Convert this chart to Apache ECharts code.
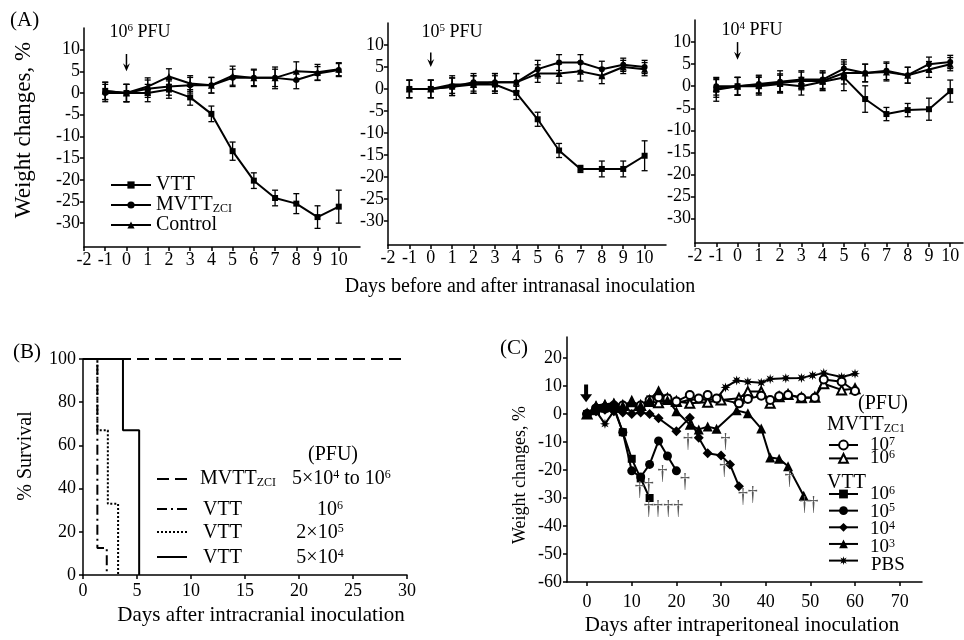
<!DOCTYPE html>
<html><head><meta charset="utf-8">
<script src="https://cdn.jsdelivr.net/npm/echarts@6/dist/echarts.min.js"></script>
<style>html,body{margin:0;padding:0;background:#fff}#c{width:964px;height:640px}</style>
</head><body><div id="c"></div>
<script>
const SERIF = 'Liberation Serif';

// ---------- Panel A data (weight change %, intranasal) ----------
const daysA = [-1,0,1,2,3,4,5,6,7,8,9,10];
const vttA1  = [0.5,0,0,0.8,-1,-4.8,-13.4,-20.2,-24.2,-25.5,-28.6,-26.2];
const vttA1E = [2,2,2,2,1.8,1.8,2.1,1.8,1.8,2.3,2.6,3.8];
const mvtA1  = [0,0,1,1.5,1.8,1.8,3.5,3.5,3.5,3,4.5,5.3];
const mvtA1E = [2,2,2,2,1.8,1.8,2,2,2,2,1.6,1.5];
const ctlA1  = [0.5,0,1.5,3.8,2.2,1.8,4,3.5,3.5,5,4.8,5.5];
const ctlA1E = [2,2,2,1.8,1.8,1.8,2.2,1.8,2.5,2.2,1.8,1.5];

const vttA2  = [0,0,0.5,1,1,-0.9,-6.9,-14,-18.2,-18.2,-18.2,-15.2];
const vttA2E = [2,2,2,2,2,1.5,1.6,1.6,0.8,1.8,1.8,3.4];
const mvtA2  = [0,0,0.5,1.5,1.5,1.5,4.5,6,6,4.5,5.5,5];
const mvtA2E = [2,2,2,2,2,2,2,1.8,1.8,1.8,1.5,1.5];
const ctlA2  = [0,0,1,1,1.5,1.5,3.5,3.5,4,3,5,4.5];
const ctlA2E = [2,2,2,2,2,2,2,2.2,2.2,1.8,1.5,1.5];

const vttA3  = [-0.8,0,0,0.5,0,1,2,-2.9,-6.3,-5.4,-5.2,-1.1];
const vttA3E = [2.6,2,2,2,2,2,3,3,1.5,1.5,2.5,2.5];
const mvtA3  = [0,0,0.5,1,1.5,1.5,4,3,3.5,2.5,5,5.5];
const mvtA3E = [2,2,2,2.5,2,2,2,2,2,1.8,1.6,1.5];
const ctlA3  = [-0.5,0,0.3,0.8,1.2,1.2,3,3,3.2,2.5,3.8,5];
const ctlA3E = [2,2,2,2,2,2,2.5,2,2,1.8,1.8,1.5];

const doseA = ['6','5','4'];
const arrowA = [[0,9,5],[0,8.3,5],[0,10,6]];

const ticksAX = [-2,-1,0,1,2,3,4,5,6,7,8,9,10];
const ticksAY = [-30,-25,-20,-15,-10,-5,0,5,10];

// ---------- Panel B data (% survival, intracranial) ----------
const bMvtt    = [[0,100],[30,100]];
const bVtt1e6  = [[0,100],[1.33,100],[1.33,12.5],[2.2,12.5],[2.2,0]];
const bVtt2e5  = [[0,100],[1.33,100],[1.33,67],[2.3,67],[2.3,33],[3.25,33],[3.25,0]];
const bVtt5e4  = [[0,100],[3.7,100],[3.7,67],[5.2,67],[5.2,0]];
const ticksBX = [0,5,10,15,20,25,30];
const ticksBY = [0,20,40,60,80,100];

// ---------- Panel C data (weight change %, intraperitoneal) ----------
const cMvtt7 = [[0,0],[2,2],[4,2],[6,3],[8,3],[10,2.5],[12,3],[14,5],[16,6],[18,5.5],[20,4.5],[23,6.8],[25,5.5],[27,6.8],[29,5.5],[34,3.8],[36,5.4],[39,6.5],[41,5],[43,6.3],[45,6.8],[48,5.8],[51,5.8],[53,12.3],[57,11.5],[60,8.2]];
const cMvtt6 = [[0,0],[2,2.5],[4,3],[6,3.5],[8,3],[10,4.5],[12,3],[14,4.5],[16,4],[18,5.5],[20,4.5],[23,3.8],[27,4.2],[30,5],[34,5.6],[36,8],[39,8],[41,3.8],[43,6.2],[45,7],[48,5.8],[51,6],[53,10.8],[57,8.6],[60,9]];
const cVtt6 = [[0,0],[2,1],[4,2],[6,2.5],[8,-6.5],[10,-16],[12,-23],[14,-30]];
const cVtt5 = [[0,0],[2,2],[4,2.5],[6,2],[8,-6.5],[10,-20.3],[12,-22.5],[14,-18],[16,-9.6],[18,-15],[20,-20.3]];
const cVtt4 = [[0,0],[2,1],[4,1.5],[6,1],[8,0.5],[10,0],[12,0.5],[14,0],[16,-1.5],[20,-6.2],[23,-1.3],[25,-8.5],[27,-14],[30,-14.8],[32,-18],[34,-25.8]];
const cVtt3 = [[0,0],[2,3],[4,3.5],[6,3.8],[8,3],[10,4.2],[12,3],[14,5],[16,8.5],[18,5],[20,1],[23,-3.8],[25,-5.5],[27,-4.5],[29,-5.3],[33.5,1.3],[36,0.3],[39,-5.2],[41,-15.5],[43,-16],[45,-18.7],[48.5,-29.2]];
const cPbs = [[0,0],[2,1],[4,-3.5],[6,1],[8,2],[10,2],[12,3],[14,5.5],[16,6.5],[18,6],[20,4],[23,5],[25,5.5],[27,5],[29,5.5],[31,9.5],[33.5,12],[36,11.5],[39,11.2],[41,12.5],[44.5,12.8],[48,12.9],[50.5,13.8],[53,14.6],[57,13.2],[60,14.4]];
const cDeaths = [[11.8,-27],[13.8,-26],[13.8,-33.7],[15.9,-33.7],[18.2,-33.7],[20.4,-33.7],[16.9,-21.2],[21.9,-24.2],[22.6,-9.9],[31,-9.9],[30.7,-19.4],[34.9,-29.5],[37.1,-29],[45.3,-23],[48.7,-32.5],[50.7,-32.5]];
const cArrow = [[0,10.5,4.2]];
const ticksCX = [0,10,20,30,40,50,60,70];
const ticksCY = [-60,-50,-40,-30,-20,-10,0,10,20];
const cLegMvtt = ['7','6'];
const cLegVtt = ['6','5','4','3'];

// ---------- helpers ----------
const pairs = (xs, ys) => xs.map((x, i) => [x, ys[i]]);
const triples = (xs, ys, es) => xs.map((x, i) => [x, ys[i], es[i]]);
const AX = {color:'#000', width:1.5};

function valAxis(g, min, max, ticks, margin, fs) {
  return {
    type:'value', gridIndex:g, min, max,
    axisLine:{show:true, onZero:false, lineStyle:AX},
    axisTick:{show:true, customValues:ticks, length:4, lineStyle:AX},
    axisLabel:{show:true, customValues:ticks, color:'#000', fontFamily:SERIF, fontSize:fs, margin},
    splitLine:{show:false}
  };
}

function renderErr(params, api) {
  const x = api.value(0), y = api.value(1), e = api.value(2);
  const a = api.coord([x, y + e]), b = api.coord([x, y - e]);
  const st = {stroke:'#000', lineWidth:1.3};
  return {type:'group', children:[
    {type:'line', shape:{x1:a[0], y1:a[1], x2:b[0], y2:b[1]}, style:st},
    {type:'line', shape:{x1:a[0]-3, y1:a[1], x2:a[0]+3, y2:a[1]}, style:st},
    {type:'line', shape:{x1:b[0]-3, y1:b[1], x2:b[0]+3, y2:b[1]}, style:st}
  ]};
}
function renderArrowA(params, api) {
  const x = api.value(0);
  const a = api.coord([x, api.value(1)]), b = api.coord([x, api.value(2)]);
  return {type:'group', children:[
    {type:'line', shape:{x1:a[0], y1:a[1], x2:b[0], y2:b[1]-3}, style:{stroke:'#000', lineWidth:1.5}},
    {type:'polygon', shape:{points:[[b[0]-3.5,b[1]-8],[b[0],b[1]-5],[b[0]+3.5,b[1]-8],[b[0],b[1]]]}, style:{fill:'#000'}}
  ]};
}
function renderArrowC(params, api) {
  const x = api.value(0);
  const a = api.coord([x, api.value(1)]), b = api.coord([x, api.value(2)]);
  const cx = a[0] - 1;
  return {type:'polygon', shape:{points:[[cx-2,a[1]],[cx+2,a[1]],[cx+2,b[1]-8],[cx+6,b[1]-8],[cx,b[1]],[cx-6,b[1]-8],[cx-2,b[1]-8]]}, style:{fill:'#000'}};
}
function renderDagger(params, api) {
  const p = api.coord([api.value(0), api.value(1)]);
  return {type:'text', x:p[0], y:p[1], style:{text:'\u2020', fontSize:20, fontFamily:SERIF, fill:'#555', align:'center', verticalAlign:'middle'}};
}

function RICH(s) {
  const ss = Math.round(s * 0.62);
  return {
    b:{fontSize:s, fontFamily:SERIF, fill:'#000', lineHeight:s},
    sup:{fontSize:ss, fontFamily:SERIF, fill:'#000', lineHeight:ss, verticalAlign:'top'},
    sub:{fontSize:ss, fontFamily:SERIF, fill:'#000', lineHeight:Math.round(s*0.54), verticalAlign:'bottom'}
  };
}
function txt(x, y, text, s, align, rot) {
  return {type:'text', x, y, rotation: rot || 0, z:100,
    style:{text, fontSize:s, fontFamily:SERIF, fill:'#000', align: align || 'center', verticalAlign:'middle', rich:RICH(s)}};
}
function gline(x1, y1, x2, y2, dash) {
  return {type:'line', z:100, shape:{x1, y1, x2, y2}, style:{stroke:'#000', lineWidth:2, lineDash:dash || null}};
}

// ---------- grids & axes ----------
const grids = [
  {left:84, top:28, width:276, height:219},
  {left:388, top:23, width:278, height:222},
  {left:695, top:20, width:268, height:223},
  {left:83, top:359, width:324, height:216},
  {left:567, top:337, width:355, height:245}
].map(g => Object.assign({outerBoundsMode:'none', containLabel:false}, g));

const xAxes = [
  valAxis(0, -2, 11, ticksAX, 4, 18),
  valAxis(1, -2, 11, ticksAX, 4, 18),
  valAxis(2, -2, 10.6, ticksAX, 4, 18),
  valAxis(3, 0, 30, ticksBX, 7, 18),
  valAxis(4, -4.5, 75, ticksCX, 11, 18)
];
const yAxes = [
  valAxis(0, -35.5, 15, ticksAY, 4, 18),
  valAxis(1, -35.5, 15, ticksAY, 4, 18),
  valAxis(2, -35.5, 15, ticksAY, 4, 18),
  valAxis(3, 0, 100, ticksBY, 7, 18),
  valAxis(4, -60, 27.5, ticksCY, 5, 18)
];

// ---------- series ----------
const series = [];
const A = [
  [vttA1, vttA1E, mvtA1, mvtA1E, ctlA1, ctlA1E],
  [vttA2, vttA2E, mvtA2, mvtA2E, ctlA2, ctlA2E],
  [vttA3, vttA3E, mvtA3, mvtA3E, ctlA3, ctlA3E]
];
A.forEach((d, g) => {
  [[d[0], d[1]], [d[2], d[3]], [d[4], d[5]]].forEach(([v, e]) => {
    series.push({type:'custom', xAxisIndex:g, yAxisIndex:g, silent:true, z:2,
      dimensions:['x','y','e'], encode:{x:0, y:1}, data:triples(daysA, v, e), renderItem:renderErr});
  });
  const mk = (name, vals, sym, size) => ({type:'line', name, xAxisIndex:g, yAxisIndex:g, data:pairs(daysA, vals),
    symbol:sym, symbolSize:size, lineStyle:{color:'#000', width:2}, itemStyle:{color:'#000'}, z:3, clip:false});
  series.push(mk('MVTT', d[2], 'circle', 6));
  series.push(mk('Control', d[4], 'triangle', 7));
  series.push(mk('VTT', d[0], 'rect', 6));
  series.push({type:'custom', xAxisIndex:g, yAxisIndex:g, silent:true, z:4,
    dimensions:['x','y1','y2'], encode:{x:0, y:1}, data:[arrowA[g]], renderItem:renderArrowA});
});

const stepLine = (name, data, dash) => ({type:'line', name, xAxisIndex:3, yAxisIndex:3, data, symbol:'none', clip:false,
  lineStyle:{color:'#000', width:2, type:dash || 'solid'}, z:3});
series.push(stepLine('B MVTT', bMvtt, [12,6]));
series.push(stepLine('B VTT 1e6', bVtt1e6, [10,4,2,4]));
series.push(stepLine('B VTT 2e5', bVtt2e5, [2,2]));
series.push(stepLine('B VTT 5e4', bVtt5e4, null));

const STAR = 'path://M10,0L4.16,1.72L7.07,7.07L1.72,4.16L0,10L-1.72,4.16L-7.07,7.07L-4.16,1.72L-10,0L-4.16,-1.72L-7.07,-7.07L-1.72,-4.16L0,-10L1.72,-4.16L7.07,-7.07L4.16,-1.72Z';
const cLine = (name, data, sym, size) => ({type:'line', name, xAxisIndex:4, yAxisIndex:4, data, symbol:sym, symbolSize:size,
  lineStyle:{color:'#000', width:2}, itemStyle:{color:'#000', borderWidth:1.5}, z:3, clip:false});
series.push(cLine('PBS', cPbs, STAR, 10));
series.push(cLine('MVTT 10^6', cMvtt6, 'emptyTriangle', 9));
series.push(cLine('MVTT 10^7', cMvtt7, 'emptyCircle', 8));
series.push(cLine('VTT 10^3', cVtt3, 'triangle', 10));
series.push(cLine('VTT 10^4', cVtt4, 'diamond', 10));
series.push(cLine('VTT 10^5', cVtt5, 'circle', 9));
series.push(cLine('VTT 10^6', cVtt6, 'rect', 8));
series.push({type:'custom', xAxisIndex:4, yAxisIndex:4, silent:true, z:5, dimensions:['x','y'], encode:{x:0, y:1},
  data:cDeaths, renderItem:renderDagger});
series.push({type:'custom', xAxisIndex:4, yAxisIndex:4, silent:true, z:5, dimensions:['x','y1','y2'], encode:{x:0, y:1},
  data:cArrow, renderItem:renderArrowC});

// ---------- legends ----------
const legendRich = (s, lh) => ({
  t:{fontSize:s, lineHeight:lh, fontFamily:SERIF, color:'#000'},
  s:{fontSize:Math.round(s*0.6), lineHeight:Math.round(s*0.54), fontFamily:SERIF, color:'#000', verticalAlign:'bottom'}
});
const legends = [
  {left:110, top:175, orient:'vertical', padding:0, itemGap:0, itemWidth:40, itemHeight:9, selectedMode:false,
   data:['VTT','MVTT','Control'],
   formatter: n => n === 'MVTT' ? '{t|MVTT}{s|ZCI}' : '{t|' + n + '}',
   textStyle:{color:'#000', fontFamily:SERIF, fontSize:20, rich:legendRich(20, 20)}},
  {left:828, top:439.5, orient:'vertical', padding:0, itemGap:2.5, itemWidth:29, itemHeight:11, selectedMode:false,
   data:['MVTT 10^7','MVTT 10^6'], formatter:() => '',
   textStyle:{color:'#000', fontSize:1}},
  {left:828, top:488.5, orient:'vertical', padding:0, itemGap:6.75, itemWidth:29, itemHeight:11, selectedMode:false,
   data:['VTT 10^6','VTT 10^5','VTT 10^4','VTT 10^3','PBS'], formatter:() => '',
   textStyle:{color:'#000', fontSize:1}}
];

// ---------- texts ----------
const R = Math.PI / 2;
const graphic = [
  txt(10, 20, '(A)', 21, 'left'),
  txt(140, 32, '{b|10}{sup|' + doseA[0] + '}{b| PFU}', 18),
  txt(452, 32, '{b|10}{sup|' + doseA[1] + '}{b| PFU}', 18),
  txt(752, 30, '{b|10}{sup|' + doseA[2] + '}{b| PFU}', 18),
  txt(24, 130, 'Weight changes, %', 23, 'center', R),
  txt(520, 287, 'Days before and after intranasal inoculation', 20),

  txt(13, 352, '(B)', 21, 'left'),
  txt(26, 456, '% Survival', 20, 'center', R),
  txt(261, 615, 'Days after intracranial inoculation', 21),
  txt(333, 455, '(PFU)', 20),
  gline(157, 479, 187, 479, [12,6]),
  txt(200, 479, '{b|MVTT}{sub|ZCI}', 20, 'left'),
  txt(292, 479, '{b|5\u00d710}{sup|4}{b| to 10}{sup|6}', 20, 'left'),
  gline(157, 509, 187, 509, [10,4,2,4]),
  txt(203, 510, 'VTT', 20, 'left'),
  txt(330, 510, '{b|10}{sup|6}', 20),
  gline(157, 532, 187, 532, [2,2]),
  txt(203, 533, 'VTT', 20, 'left'),
  txt(320, 533, '{b|2\u00d710}{sup|5}', 20),
  gline(157, 557, 187, 557, null),
  txt(203, 558, 'VTT', 20, 'left'),
  txt(320, 558, '{b|5\u00d710}{sup|4}', 20),

  txt(500, 348, '(C)', 21, 'left'),
  txt(520, 475, 'Weight changes, %', 18, 'center', R),
  txt(742, 625, 'Days after intraperitoneal inoculation', 21),
  txt(883, 404, '(PFU)', 20),
  txt(827, 425, '{b|MVTT}{sub|ZC1}', 20, 'left'),
  txt(827, 483, 'VTT', 20, 'left')
];
cLegMvtt.forEach((e, i) => graphic.push(txt(870, 445 + i * 13.5, '{b|10}{sup|' + e + '}', 19, 'left')));
cLegVtt.forEach((e, i) => graphic.push(txt(870, 494 + i * 17.75, '{b|10}{sup|' + e + '}', 19, 'left')));
graphic.push(txt(871, 565, 'PBS', 19, 'left'));

const chart = echarts.init(document.getElementById('c'), null, {renderer:'canvas'});
chart.setOption({
  animation:false,
  backgroundColor:'#fff',
  textStyle:{fontFamily:SERIF},
  grid:grids, xAxis:xAxes, yAxis:yAxes,
  legend:legends, series, graphic
});
</script></body></html>
